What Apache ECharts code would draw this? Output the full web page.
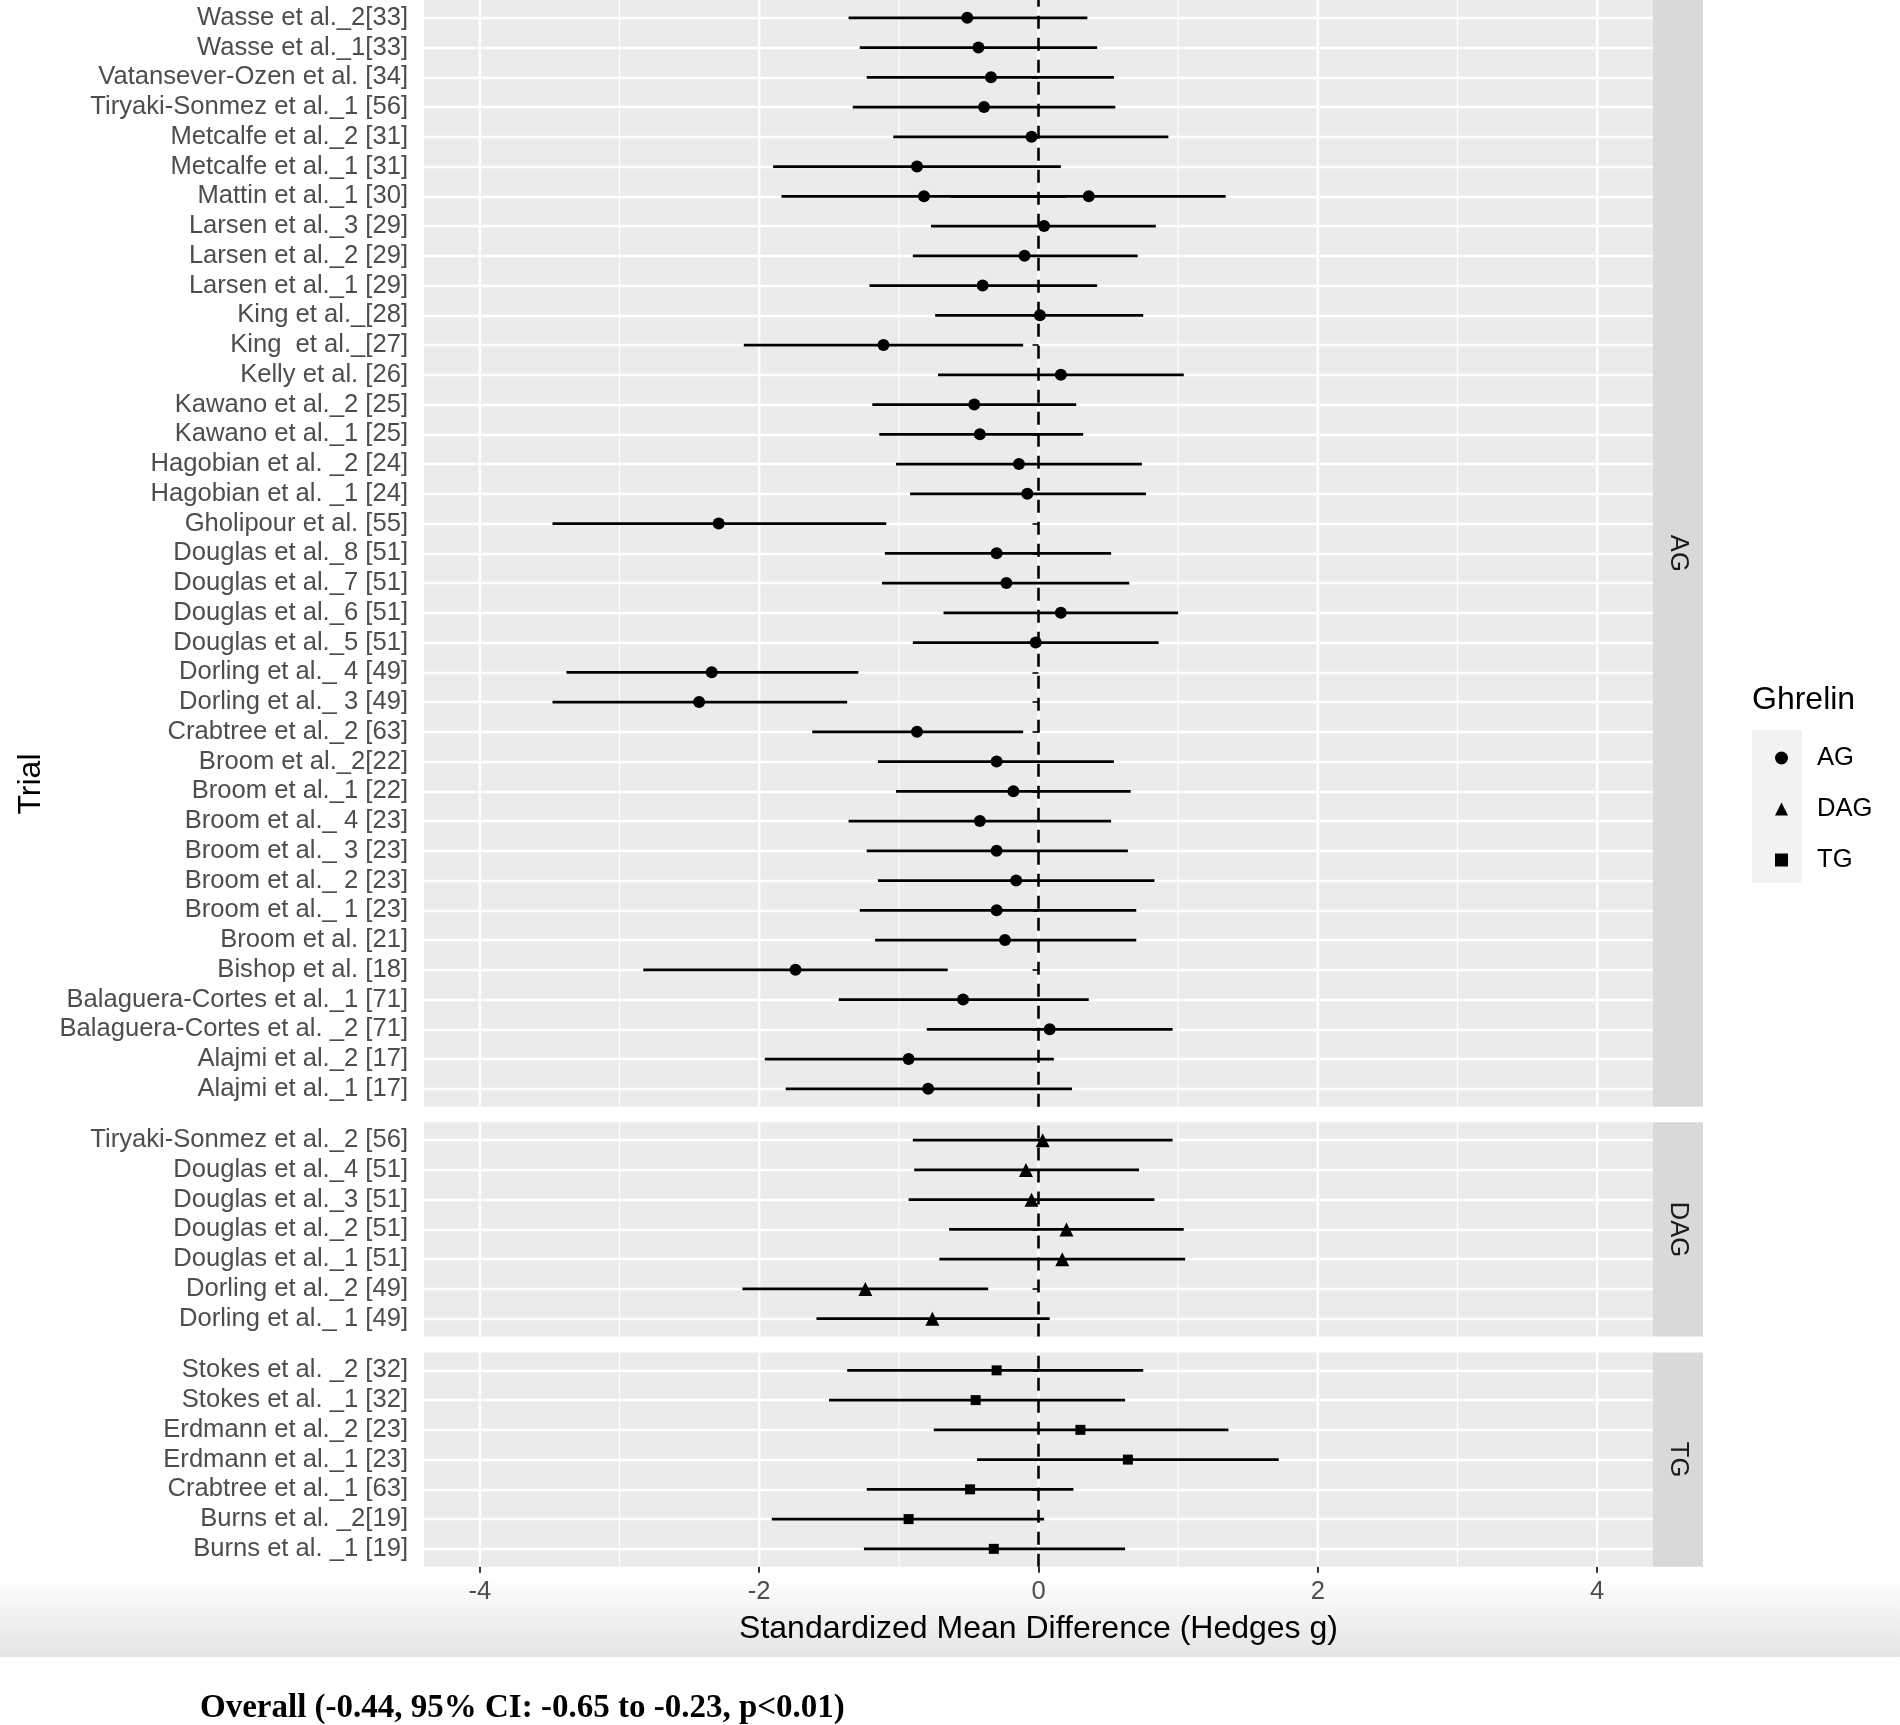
<!DOCTYPE html>
<html><head><meta charset="utf-8">
<script src="https://cdn.jsdelivr.net/npm/echarts@6/dist/echarts.min.js"></script>
<style>html,body{margin:0;padding:0;background:#fff}#c{width:1900px;height:1725px}</style>
</head><body><div id="c"></div>
<script>
// ---------- DATA ----------
const agTrials = [
 'Wasse et al._2[33]','Wasse et al._1[33]','Vatansever-Ozen et al. [34]','Tiryaki-Sonmez et al._1 [56]',
 'Metcalfe et al._2 [31]','Metcalfe et al._1 [31]','Mattin et al._1 [30]','Larsen et al._3 [29]',
 'Larsen et al._2 [29]','Larsen et al._1 [29]','King et al._[28]','King  et al._[27]','Kelly et al. [26]',
 'Kawano et al._2 [25]','Kawano et al._1 [25]','Hagobian et al. _2 [24]','Hagobian et al. _1 [24]',
 'Gholipour et al. [55]','Douglas et al._8 [51]','Douglas et al._7 [51]','Douglas et al._6 [51]',
 'Douglas et al._5 [51]','Dorling et al._ 4 [49]','Dorling et al._ 3 [49]','Crabtree et al._2 [63]',
 'Broom et al._2[22]','Broom et al._1 [22]','Broom et al._ 4 [23]','Broom et al._ 3 [23]',
 'Broom et al._ 2 [23]','Broom et al._ 1 [23]','Broom et al. [21]','Bishop et al. [18]',
 'Balaguera-Cortes et al._1 [71]','Balaguera-Cortes et al. _2 [71]','Alajmi et al._2 [17]','Alajmi et al._1 [17]'
];
// one entry per estimate (the Mattin row carries two estimates)
const agPointTrial = [
 'Wasse et al._2[33]','Wasse et al._1[33]','Vatansever-Ozen et al. [34]','Tiryaki-Sonmez et al._1 [56]',
 'Metcalfe et al._2 [31]','Metcalfe et al._1 [31]','Mattin et al._1 [30]','Mattin et al._1 [30]','Larsen et al._3 [29]',
 'Larsen et al._2 [29]','Larsen et al._1 [29]','King et al._[28]','King  et al._[27]','Kelly et al. [26]',
 'Kawano et al._2 [25]','Kawano et al._1 [25]','Hagobian et al. _2 [24]','Hagobian et al. _1 [24]',
 'Gholipour et al. [55]','Douglas et al._8 [51]','Douglas et al._7 [51]','Douglas et al._6 [51]',
 'Douglas et al._5 [51]','Dorling et al._ 4 [49]','Dorling et al._ 3 [49]','Crabtree et al._2 [63]',
 'Broom et al._2[22]','Broom et al._1 [22]','Broom et al._ 4 [23]','Broom et al._ 3 [23]',
 'Broom et al._ 2 [23]','Broom et al._ 1 [23]','Broom et al. [21]','Bishop et al. [18]',
 'Balaguera-Cortes et al._1 [71]','Balaguera-Cortes et al. _2 [71]','Alajmi et al._2 [17]','Alajmi et al._1 [17]'
];
const agEst   = [-0.51,-0.43,-0.34,-0.39,-0.05,-0.87,-0.82, 0.36, 0.04,-0.10,-0.40, 0.01,-1.11, 0.16,-0.46,-0.42,-0.14,-0.08,-2.29,-0.30,-0.23, 0.16,-0.02,-2.34,-2.43,-0.87,-0.30,-0.18,-0.42,-0.30,-0.16,-0.30,-0.24,-1.74,-0.54, 0.08,-0.93,-0.79];
const agLower = [-1.36,-1.28,-1.23,-1.33,-1.04,-1.90,-1.84,-0.63,-0.77,-0.90,-1.21,-0.74,-2.11,-0.72,-1.19,-1.14,-1.02,-0.92,-3.48,-1.10,-1.12,-0.68,-0.90,-3.38,-3.48,-1.62,-1.15,-1.02,-1.36,-1.23,-1.15,-1.28,-1.17,-2.83,-1.43,-0.80,-1.96,-1.81];
const agUpper = [ 0.35, 0.42, 0.54, 0.55, 0.93, 0.16, 0.20, 1.34, 0.84, 0.71, 0.42, 0.75,-0.11, 1.04, 0.27, 0.32, 0.74, 0.77,-1.09, 0.52, 0.65, 1.00, 0.86,-1.29,-1.37,-0.11, 0.54, 0.66, 0.52, 0.64, 0.83, 0.70, 0.70,-0.65, 0.36, 0.96, 0.11, 0.24];

const dagTrials = ['Tiryaki-Sonmez et al._2 [56]','Douglas et al._4 [51]','Douglas et al._3 [51]','Douglas et al._2 [51]','Douglas et al._1 [51]','Dorling et al._2 [49]','Dorling et al._ 1 [49]'];
const dagEst   = [ 0.03,-0.09,-0.05, 0.20, 0.17,-1.24,-0.76];
const dagLower = [-0.90,-0.89,-0.93,-0.64,-0.71,-2.12,-1.59];
const dagUpper = [ 0.96, 0.72, 0.83, 1.04, 1.05,-0.36, 0.08];

const tgTrials = ['Stokes et al. _2 [32]','Stokes et al. _1 [32]','Erdmann et al._2 [23]','Erdmann et al._1 [23]','Crabtree et al._1 [63]','Burns et al. _2[19]','Burns et al. _1 [19]'];
const tgEst   = [-0.30,-0.45, 0.30, 0.64,-0.49,-0.93,-0.32];
const tgLower = [-1.37,-1.50,-0.75,-0.44,-1.23,-1.91,-1.25];
const tgUpper = [ 0.75, 0.62, 1.36, 1.72, 0.25, 0.04, 0.62];

const xTicksMajor = [-4,-2,0,2,4];
const xTicksMinor = [-3,-1,1,3];
const refLine = [0];
const groups = ['AG','DAG','TG'];
const xTitle = 'Standardized Mean Difference (Hedges g)';
const yTitle = 'Trial';
const legendTitle = 'Ghrelin';
const overallText = 'Overall (-0.44, 95% CI: -0.65 to -0.23, p<0.01)';

// ---------- LAYOUT ----------
const FONT = "'Liberation Sans', Arial, sans-serif";
const X_MIN = -4.4, X_MAX = 4.4;
const ROW = 29.75, EXP = 0.6 * ROW;
const P_LEFT = 424, P_RIGHT = 1653, W = 1900;
const STRIP_W = 50;

const panels = [
  {name:'AG',  trials: agTrials,  pts: agPointTrial, est: agEst,  lo: agLower,  hi: agUpper,  symbol:'circle',   size:12, top:0},
  {name:'DAG', trials: dagTrials, pts: dagTrials,    est: dagEst, lo: dagLower, hi: dagUpper, symbol:'triangle', size:14, top:1122.3},
  {name:'TG',  trials: tgTrials,  pts: tgTrials,     est: tgEst,  lo: tgLower,  hi: tgUpper,  symbol:'rect',     size:10, top:1352.5}
];

const grid = [], xAxis = [], yAxis = [], series = [], graphic = [];

function vline(color, width, dash) {
  return function (params, api) {
    const a = api.coord([api.value(0), 0]);
    const b = api.coord([api.value(0), 1]);
    return {type:'line', shape:{x1:a[0], y1:a[1], x2:b[0], y2:b[1]},
            style:{stroke:color, lineWidth:width, lineDash: dash || null}};
  };
}

panels.forEach((p, i) => {
  const n = p.trials.length;
  const h = (n - 1) * ROW + 2 * EXP;
  const bg = 2 * i, dg = 2 * i + 1;
  grid.push({left:P_LEFT, right:W - P_RIGHT, top:p.top, height:h, show:true,
             backgroundColor:'#ebebeb', borderWidth:0, z:0, outerBoundsMode:'none'});
  grid.push({left:P_LEFT, right:W - P_RIGHT, top:p.top + EXP, height:(n - 1) * ROW, show:false, outerBoundsMode:'none'});

  const isBottom = (i === panels.length - 1);
  xAxis.push(isBottom ? {
    type:'value', gridIndex:bg, min:X_MIN, max:X_MAX, position:'bottom',
    axisLine:{show:false}, splitLine:{show:false},
    axisTick:{show:true, length:6, lineStyle:{color:'#333333', width:2}, customValues:xTicksMajor},
    axisLabel:{customValues:xTicksMajor, color:'#4d4d4d', fontSize:25.6, fontFamily:FONT, margin:12},
    name:xTitle, nameLocation:'middle', nameGap:46,
    nameTextStyle:{color:'#000', fontSize:32, fontFamily:FONT}
  } : {type:'value', gridIndex:bg, min:X_MIN, max:X_MAX, show:false});
  xAxis.push({type:'value', gridIndex:dg, min:X_MIN, max:X_MAX, show:false});

  yAxis.push({type:'value', gridIndex:bg, min:0, max:1, show:false});
  yAxis.push({
    type:'category', gridIndex:dg, data:p.trials, inverse:true, boundaryGap:false, z:1,
    axisLine:{show:false},
    axisTick:{show:true, interval:0, length:6, lineStyle:{color:'#333333', width:2}},
    axisLabel:{interval:0, color:'#4d4d4d', fontSize:25.6, fontFamily:FONT, margin:16},
    splitLine:{show:true, interval:0, lineStyle:{color:'#ffffff', width:2.4}}
  });

  // vertical grid lines (major / minor) and the zero reference line
  series.push({type:'custom', xAxisIndex:bg, yAxisIndex:bg, silent:true, z:1,
    data: xTicksMajor.map(v => [v]), encode:{x:0}, renderItem: vline('#ffffff', 2.4)});
  series.push({type:'custom', xAxisIndex:bg, yAxisIndex:bg, silent:true, z:1,
    data: xTicksMinor.map(v => [v]), encode:{x:0}, renderItem: vline('#ffffff', 1.2)});
  series.push({type:'custom', xAxisIndex:bg, yAxisIndex:bg, silent:true, z:3,
    data: refLine.map(v => [v]), encode:{x:0}, renderItem: vline('#000000', 2.6, [13, 9])});

  // error bars
  const bars = p.pts.map((t, k) => [p.trials.indexOf(t), p.lo[k], p.hi[k]]);
  series.push({type:'custom', xAxisIndex:dg, yAxisIndex:dg, silent:true, z:4,
    data: bars, encode:{y:0, x:[1,2]},
    renderItem: function (params, api) {
      const a = api.coord([api.value(1), api.value(0)]);
      const b = api.coord([api.value(2), api.value(0)]);
      return {type:'line', shape:{x1:a[0], y1:a[1], x2:b[0], y2:b[1]},
              style:{stroke:'#000', lineWidth:2.9}};
    }});
  // point estimates
  series.push({type:'scatter', name:p.name, xAxisIndex:dg, yAxisIndex:dg, z:5,
    symbol:p.symbol, symbolSize:p.size, itemStyle:{color:'#000', opacity:1},
    data: p.pts.map((t, k) => [p.est[k], p.trials.indexOf(t)])});

  // facet strip
  graphic.push({type:'rect', z:1, shape:{x:P_RIGHT, y:p.top, width:STRIP_W, height:h}, style:{fill:'#d9d9d9'}});
  graphic.push({type:'text', z:2, x:P_RIGHT + STRIP_W / 2, y:p.top + h / 2, rotation:-Math.PI / 2,
    style:{text:p.name, fill:'#1a1a1a', font:'25.6px ' + FONT, textAlign:'center', textVerticalAlign:'middle'}});
});

// bottom shading band (as in the reference screenshot)
graphic.push({type:'rect', z:-1, shape:{x:0, y:1575, width:W, height:82},
  style:{fill:{type:'linear', x:0, y:0, x2:0, y2:1, colorStops:[{offset:0, color:'#ffffff'},{offset:1, color:'#e4e4e4'}]}}});
// y-axis title
graphic.push({type:'text', x:31, y:784, rotation:Math.PI / 2,
  style:{text:yTitle, fill:'#000', font:'32px ' + FONT, textAlign:'center', textVerticalAlign:'middle'}});
// legend title and key background
graphic.push({type:'text', x:1752, y:700,
  style:{text:legendTitle, fill:'#000', font:'32px ' + FONT, textAlign:'left', textVerticalAlign:'middle'}});
graphic.push({type:'rect', z:0, shape:{x:1752, y:730, width:50, height:153}, style:{fill:'#f2f2f2'}});
// overall summary text
graphic.push({type:'text', x:200, y:1708,
  style:{text:overallText, fill:'#000', font:"bold 33px 'Liberation Serif', 'Times New Roman', serif", textAlign:'left', textVerticalAlign:'middle'}});

const option = {
  animation:false,
  backgroundColor:'#ffffff',
  grid, xAxis, yAxis, series, graphic,
  legend:{data:groups, orient:'vertical', left:1770, top:738, itemWidth:13, itemHeight:13, itemGap:21,
    selectedMode:false, z:5,
    textStyle:{fontSize:25.6, color:'#000', fontFamily:FONT, lineHeight:30, padding:[0,0,0,24]}}
};

const chart = echarts.init(document.getElementById('c'), null, {renderer:'canvas'});
chart.setOption(option);
</script></body></html>
